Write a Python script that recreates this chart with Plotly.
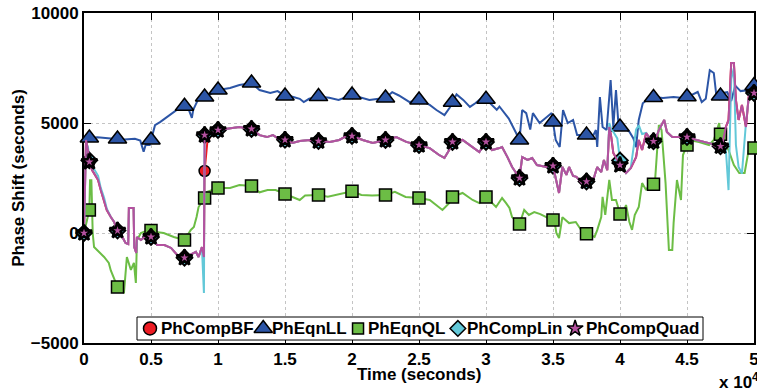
import numpy as np
import plotly.graph_objects as go

# ---------------------------------------------------------------- data
# Time samples (s) shared by the three PhComp estimators
t_comp = [
    0, 150, 300, 400, 600, 800, 1050, 1250, 1500, 1700,
    2000, 2250, 2450, 2700, 3100, 3300, 3350, 3700, 3750, 3900,
    3950, 4250, 4600, 5000, 5450, 6000, 6500, 6950, 7450, 7950,
    8350, 8550, 8800, 8950, 8980, 9000, 9200, 9550, 10000, 10900,
    11600, 12500, 13100, 13650, 14100, 14550, 15050, 15550, 16100, 16850,
    17450, 18350, 19050, 19600, 20050, 20800, 21550, 22500, 23300, 24050,
    25000, 25800, 26500, 26900, 27250, 27500, 28250, 28900, 29500, 30000,
    30450, 31000, 31200, 31600, 31950, 32500, 32700, 33100, 33450, 33800,
    34500, 34950, 35250, 35450, 35700, 36000, 36200, 36500, 36750, 37200,
    37700, 38050, 38300, 38600, 38800, 39050, 39200, 39350, 39500, 39800,
    40000, 40450, 40800, 41200, 41400, 41650, 41950, 42300, 42600, 42900,
    43300, 43500, 43900, 44400, 45100, 45700, 46400, 46850, 47150, 47600,
    47900, 48100, 48300, 48500, 48650, 48850, 49100, 49400, 49600, 49900,
    50000,
]

v_comp_quad = [
    0, 4230, 3770, 3230, 2860, 2640, 2410, 1950, 1500, 1045,
    730, 500, 136, 0, -450, -500, 1140, 1140, -640, -910,
    -180, -320, -140, -180, -545, -545, -680, -1000, -1140, -1000,
    -860, -1090, -640, -1090, 4450, 4450, 4500, 4545, 4680, 4770,
    4820, 4730, 4450, 4360, 4450, 4270, 4230, 4090, 4180, 4230,
    4180, 4140, 4230, 4410, 4410, 4230, 4090, 4230, 4360, 4140,
    4000, 3860, 3545, 3410, 3770, 4140, 4230, 3950, 3680, 4140,
    3770, 3860, 3910, 3450, 3000, 2500, 3450, 3320, 3410, 3090,
    3000, 3180, 2410, 1820, 3000, 2640, 3000, 2590, 2550, 2230,
    2410, 2500, 3000, 2770, 3320, 2860, 4820, 4360, 3640, 3320,
    3090, 2730, 2950, 3450, 4230, 3770, 4545, 4230, 4140, 4680,
    5140, 4590, 4360, 4360, 4360, 4230, 4140, 4050, 3910, 3950,
    4820, 5140, 7730, 7730, 6050, 5140, 5820, 4820, 6180, 6360,
    6360,
]

v_comp_lin = [
    0, 4100, 3900, 3300, 2950, 2860, 2600, 2050, 1600, 1100,
    730, 500, 136, 0, -450, -500, 1140, 1140, -640, -910,
    -180, -320, -140, -180, -545, -545, -680, -1000, -1140, -1000,
    -860, -1090, -640, -2730, 4450, 4450, 4500, 4545, 4680, 4770,
    4820, 4730, 4450, 4360, 4450, 4270, 4230, 4090, 4180, 4230,
    4180, 4140, 4230, 4410, 4410, 4230, 4090, 4230, 4360, 4140,
    4000, 3860, 3545, 3410, 3770, 4140, 4230, 3950, 3680, 4140,
    3770, 3860, 3910, 3450, 3000, 2500, 3450, 3320, 3410, 3090,
    3000, 3180, 2410, 1820, 3000, 2640, 3000, 2590, 2550, 2230,
    2410, 2500, 3000, 2770, 3320, 2860, 5000, 4700, 4600, 4300,
    3300, 2730, 2950, 4700, 4900, 4500, 4545, 4230, 4140, 4680,
    5140, 4590, 4360, 4360, 4360, 4230, 4140, 4050, 3910, 3950,
    3800, 1950, 7000, 7500, 4000, 3000, 2700, 5000, 6100, 6360,
    6360,
]

v_comp_bf = [
    0, 4230, 3770, 3230, 2860, 2640, 2410, 1950, 1500, 1045,
    730, 500, 136, 0, -450, -500, 1140, 1140, -640, -910,
    -180, -320, -140, -180, -545, -545, -680, -1000, -1140, -1000,
    -860, -1090, -640, -1090, 1500, 2820, 4100, 4545, 4680, 4770,
    4820, 4730, 4450, 4360, 4450, 4270, 4230, 4090, 4180, 4230,
    4180, 4140, 4230, 4410, 4410, 4230, 4090, 4230, 4360, 4140,
    4000, 3860, 3545, 3410, 3770, 4140, 4230, 3950, 3680, 4140,
    3770, 3860, 3910, 3450, 3000, 2500, 3450, 3320, 3410, 3090,
    3000, 3180, 2410, 1820, 3000, 2640, 3000, 2590, 2550, 2230,
    2410, 2500, 3000, 2770, 3320, 2860, 4820, 4360, 3640, 3320,
    3090, 2730, 2950, 3450, 4230, 3770, 4545, 4230, 4140, 4680,
    5140, 4590, 4360, 4360, 4360, 4230, 4140, 4050, 3910, 3950,
    4820, 5140, 7730, 7730, 6050, 5140, 5820, 4820, 6180, 6360,
    6360,
]

# PhEqnLL
t_eqn_ll = [
    0, 1000, 2000, 3000, 3800, 4200, 4450, 4600, 4900, 5300,
    5700, 6400, 7150, 7700, 8050, 8150, 8500, 9000, 10000, 10900,
    11600, 12500, 13100, 13900, 14450, 15000, 15500, 16100, 16400, 16800,
    17500, 18300, 19000, 20000, 20600, 21300, 22000, 22500, 23000, 23500,
    24300, 25000, 25800, 26300, 26900, 27300, 27800, 28300, 28800, 29200,
    29800, 30300, 30800, 31000, 31700, 32200, 32500, 32700, 33000, 33300,
    33500, 34000, 34500, 34900, 35200, 35500, 35750, 36100, 36500, 36800,
    37100, 37500, 37900, 38200, 38300, 38500, 38700, 39000, 39300, 39500,
    39700, 39900, 40200, 40700, 41000, 41200, 41400, 41700, 42000, 42600,
    43200, 44000, 44700, 45200, 45800, 46100, 46400, 46700, 47000, 47200,
    47400, 47600, 48000, 48300, 48600, 49000, 49600, 50000,
]
v_eqn_ll = [
    4300, 4350, 4300, 4250, 4280, 4200, 3700, 4000, 4000, 4900,
    5050, 5360, 5700, 5800, 5230, 5600, 6050, 6180, 6500, 6590,
    6730, 6820, 6500, 6360, 6450, 6230, 6200, 6100, 5950, 6100,
    6200, 6150, 6045, 6270, 6180, 6045, 6100, 6140, 6400, 6250,
    5950, 6045, 5820, 5590, 5360, 5700, 6300, 6050, 5730, 5900,
    6200, 5900, 5600, 5750, 5200, 4600, 4230, 5590, 5450, 4700,
    5450, 5000, 5270, 5450, 4230, 3910, 5590, 5000, 5140, 4450,
    4450, 4450, 4300, 4680, 3910, 6180, 4820, 4680, 6950, 4820,
    6500, 4820, 4820, 4600, 4300, 3900, 5140, 5900, 6045, 6180,
    6140, 6180, 6140, 6230, 6410, 5950, 6100, 7400, 7270, 6200,
    6100, 6360, 6400, 6000, 6700, 6450, 6500, 6700,
]

# PhEqnQL
t_eqn_ql = [
    0, 400, 450, 550, 650, 750, 1500, 1850, 2000, 2500,
    2980, 3130, 3200, 3500, 3725, 3870, 3950, 4250, 4850, 5350,
    5950, 6700, 7500, 7970, 8200, 8400, 8550, 9000, 9150, 10000,
    10900, 11600, 12500, 13100, 13700, 14300, 15000, 15500, 16100, 16500,
    17500, 18200, 19000, 20000, 20700, 21500, 22500, 23200, 24000, 25000,
    25800, 26750, 27250, 27500, 28250, 29000, 29500, 30000, 30750, 31200,
    31500, 31750, 31950, 32500, 32850, 33200, 33600, 34050, 34500, 34850,
    35100, 35250, 35450, 35700, 36200, 36700, 37200, 37700, 38100, 38300,
    38600, 38700, 38900, 39200, 39400, 39700, 39900, 40100, 40450, 40700,
    40900, 41100, 41400, 41650, 41950, 42150, 42600, 42750, 42900, 43100,
    43400, 43650, 43900, 44000, 44250, 44550, 44700, 45150, 45900, 46650,
    47000, 47400, 47550, 47800, 48100, 48500, 48900, 49300, 49600, 49900,
    50000,
]
v_eqn_ql = [
    0, 1045, 2400, 2400, 0, -640, -1090, -1360, -1700, -2450,
    -2730, -1820, -1090, -1680, -1360, -2270, -320, 0, 140, 45,
    0, -180, -320, 140, 270, 730, 1180, 1590, 1860, 2045,
    2050, 2180, 2140, 1850, 1950, 1950, 1770, 1640, 1500, 1700,
    1730, 1650, 1750, 1900, 1730, 1700, 1730, 1870, 1640, 1590,
    1500, 1045, 1360, 1640, 1820, 1500, 1360, 1640, 1180, 1590,
    1360, 1140, 720, 410, 1045, 820, 950, 860, 720, 590,
    590, 0, -230, 720, 450, 500, 45, -90, -180, 130,
    720, 1640, 820, 2410, 1500, 1500, 1045, 680, 1270, 500,
    140, 820, 1180, 2270, 1950, 2180, 2230, 3770, 4910, 4680,
    2270, -770, -770, 450, 2410, 1500, 3545, 4230, 4140, 4000,
    4230, 5000, 4230, 4090, 3770, 3090, 2730, 2730, 3770, 3860,
    3860,
]

# Times at which the estimator symbols are drawn
marker_times = [0, 400, 2500, 5000, 7500, 9000, 10000, 12500, 15000, 17500,
                20000, 22500, 25000, 27500, 30000, 32500, 35000, 37500,
                40000, 42500, 45000, 47500, 50000]

x_tick_vals = [0, 5000, 10000, 15000, 20000, 25000, 30000, 35000, 40000, 45000, 50000]
x_tick_text = ["0", "0.5", "1", "1.5", "2", "2.5", "3", "3.5", "4", "4.5", "5"]
y_tick_vals = [-5000, 0, 5000, 10000]
y_tick_text = ["\u22125000", "0", "5000", "10000"]

# ---------------------------------------------------------------- styles
FONT = "Liberation Sans"
C_RED = "#ed1c24"
C_BLUE = "#2c55a6"
C_GREEN = "#6cbd45"
C_CYAN = "#62c8d8"
C_MAGENTA = "#b4519f"

series = [
    # name, times, values, colour, symbol, plot size, edge, legend size, marker times
    ("PhCompBF", t_comp, v_comp_bf, C_RED, "circle", 11, 1.5, 13, marker_times),
    ("PhEqnLL", t_eqn_ll, v_eqn_ll, C_BLUE, "triangle-up", 16, 1.5, 16, marker_times[1:]),
    ("PhEqnQL", t_eqn_ql, v_eqn_ql, C_GREEN, "square", 12, 1.5, 11, marker_times[1:]),
    ("PhCompLin", t_comp, v_comp_lin, C_CYAN, "diamond", 12, 2, 12, marker_times),
    ("PhCompQuad", t_comp, v_comp_quad, C_MAGENTA, "star", 12, 2.5, 12, marker_times),
]

fig = go.Figure()
for name, t, v, color, symbol, size, edge, _, mk_t in series:
    fig.add_trace(go.Scatter(
        x=t, y=v, mode="lines", line=dict(color=color, width=2),
        showlegend=False, hoverinfo="skip", name=name,
    ))
    fig.add_trace(go.Scatter(
        x=mk_t, y=np.interp(mk_t, t, v), mode="markers", name=name,
        marker=dict(symbol=symbol, size=size, color=color,
                    line=dict(color="black", width=edge)),
        cliponaxis=False, showlegend=False,
    ))

# ---------------------------------------------------------------- legend
# A compact single-row key drawn on an overlay axis spanning the plot (0..1)
key_box = dict(x0=0.0791, x1=0.9239, y0=0.009, y1=0.0788)
key_row_y = 0.044
key_symbol_x = [0.0985, 0.2675, 0.4090, 0.5580, 0.7330]
key_text_x = [0.1120, 0.2780, 0.4210, 0.5690, 0.7460]

fig.add_trace(go.Scatter(
    x=[key_box["x0"], key_box["x1"], key_box["x1"], key_box["x0"], key_box["x0"]],
    y=[key_box["y0"], key_box["y0"], key_box["y1"], key_box["y1"], key_box["y0"]],
    xaxis="x2", yaxis="y2", mode="lines", fill="toself", fillcolor="white",
    line=dict(color="black", width=1), showlegend=False, hoverinfo="skip",
))
annotations = []
for (name, _, _, color, symbol, _, _, key_size, _), sx, tx in zip(series, key_symbol_x, key_text_x):
    fig.add_trace(go.Scatter(
        x=[sx], y=[key_row_y], xaxis="x2", yaxis="y2", mode="markers",
        marker=dict(symbol=symbol, size=key_size, color=color,
                    line=dict(color="black", width=1.5)),
        showlegend=False, hoverinfo="skip", cliponaxis=False,
    ))
    annotations.append(dict(
        text=name, xref="x2", yref="y2", x=tx, y=key_row_y,
        xanchor="left", yanchor="middle", showarrow=False,
        font=dict(family=FONT, size=17, color="black", weight="bold"),
    ))

bold17 = dict(family=FONT, size=17, color="black", weight="bold")

# axis title and the exponent note under the x axis
annotations.append(dict(
    text="Time (seconds)", xref="paper", yref="paper", x=0.5, y=-0.095,
    xanchor="center", yanchor="middle", showarrow=False, font=bold17,
))
annotations.append(dict(
    text="x 10<sup>4</sup>", xref="paper", yref="paper", x=0.9448, y=-0.155,
    xanchor="left", yanchor="bottom", showarrow=False, font=bold17,
))

axis_common = dict(
    ticks="inside", ticklen=7, tickwidth=1, tickcolor="black",
    showline=True, linecolor="black", linewidth=2, mirror="ticks",
    showgrid=True, gridcolor="#c4c4c4", griddash="dot", gridwidth=1,
    zeroline=False, layer="below traces", automargin=False,
    tickfont=bold17, ticklabeloverflow="allow",
)

fig.update_xaxes(
    range=[0, 50000], tickmode="array", tickvals=x_tick_vals, ticktext=x_tick_text,
    **axis_common,
)
fig.update_yaxes(
    range=[-5000, 10000], tickmode="array", tickvals=y_tick_vals, ticktext=y_tick_text,
    title=dict(text="Phase Shift (seconds)", standoff=2, font=bold17),
    **axis_common,
)

fig.update_layout(
    width=757, height=391,
    margin=dict(l=84, r=3, t=13, b=48),
    paper_bgcolor="white", plot_bgcolor="white",
    font=bold17,
    showlegend=False,
    xaxis2=dict(overlaying="x", anchor="y2", range=[0, 1], visible=False, fixedrange=True),
    yaxis2=dict(overlaying="y", anchor="x2", range=[0, 1], visible=False, fixedrange=True),
    annotations=annotations,
)

fig.write_html("out.html")
